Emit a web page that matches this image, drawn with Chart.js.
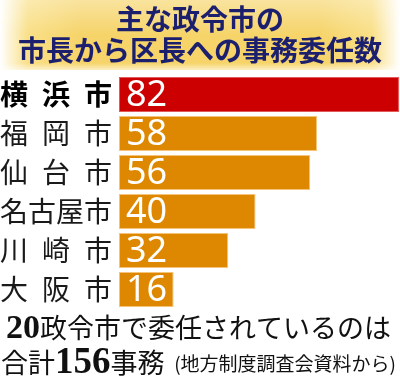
<!DOCTYPE html>
<html><head><meta charset="utf-8">
<script src="https://cdn.jsdelivr.net/npm/chart.js@4/dist/chart.umd.min.js"></script>
<style>html,body{margin:0;padding:0;background:#fff;}#wrap{width:400px;height:381px;position:relative;}</style>
</head><body><div id="wrap"><canvas id="c" width="400" height="381"></canvas></div>
<script>
const titleLines = ['主な政令市の', '市長から区長への事務委任数'];
const cities = ['横\u2002浜\u2002市', '福\u2002岡\u2002市', '仙\u2002台\u2002市', '名古屋市', '川\u2002崎\u2002市', '大\u2002阪\u2002市'];
const counts = [82, 58, 56, 40, 32, 16];
const barColors = ['#cc0000', '#dd8800', '#dd8800', '#dd8800', '#dd8800', '#dd8800'];
const borderColors = ['#e35a5a', '#f6c37a', '#f6c37a', '#f6c37a', '#f6c37a', '#f6c37a'];
const footLine1 = [['20', 'bold 34px "Liberation Serif"'], ['政令市で委任されているのは', '27px "Noto Sans CJK JP"']];
const footLine2 = [['合計', '27px "Noto Sans CJK JP"'], ['156', 'bold 37px "Liberation Serif"'], ['事務', '27px "Noto Sans CJK JP"']];
const footSource = '(地方制度調査会資料から)';
const CJK = '"Noto Sans CJK JP", "Noto Sans", sans-serif';

const decor = {
  id: 'decor',
  beforeDraw(chart) {
    const ctx = chart.ctx;
    ctx.save();
    const g = ctx.createLinearGradient(0, 0, 400, 0);
    g.addColorStop(0, '#ffffff');
    g.addColorStop(0.07, '#f9df86');
    g.addColorStop(0.2, '#f6d46a');
    g.addColorStop(0.8, '#f6d46a');
    g.addColorStop(0.93, '#f9df86');
    g.addColorStop(1, '#ffffff');
    ctx.fillStyle = g;
    ctx.fillRect(0, 0, 400, 70);
    const v = ctx.createLinearGradient(0, 0, 0, 70);
    v.addColorStop(0, 'rgba(255,255,255,0.35)');
    v.addColorStop(0.5, 'rgba(255,255,255,0)');
    v.addColorStop(0.9, 'rgba(255,255,255,0)');
    v.addColorStop(1, 'rgba(255,255,255,0.6)');
    ctx.fillStyle = v;
    ctx.fillRect(0, 0, 400, 70);
    ctx.fillStyle = '#1b1f6e';
    ctx.font = 'bold 28px ' + CJK;
    ctx.textAlign = 'center';
    ctx.textBaseline = 'middle';
    ctx.fillText(titleLines[0], 200, 19);
    ctx.fillText(titleLines[1], 200, 50);
    ctx.restore();
  },
  afterDraw(chart) {
    const ctx = chart.ctx;
    ctx.save();
    const meta = chart.getDatasetMeta(0);
    ctx.fillStyle = '#ffffff';
    ctx.font = '36px "Noto Sans", sans-serif';
    ctx.textAlign = 'left';
    ctx.textBaseline = 'middle';
    meta.data.forEach((bar, i) => {
      ctx.fillText(String(counts[i]), bar.base + 7, bar.y + 1);
    });
    ctx.fillStyle = '#111111';
    ctx.textBaseline = 'alphabetic';
    const drawLine = (parts, x, y) => {
      parts.forEach(([t, f]) => {
        ctx.font = f + ', ' + CJK;
        ctx.fillText(t, x, y);
        x += ctx.measureText(t).width;
      });
    };
    drawLine(footLine1, 6, 338);
    drawLine(footLine2, 1, 373);
    ctx.font = '19px ' + CJK;
    ctx.textAlign = 'right';
    ctx.fillText(footSource, 396, 371);
    ctx.restore();
  }
};

new Chart(document.getElementById('c'), {
  type: 'bar',
  data: {
    labels: cities,
    datasets: [{
      data: counts,
      backgroundColor: barColors,
      borderColor: borderColors,
      borderWidth: 1,
      borderSkipped: false,
      barPercentage: 0.9,
      categoryPercentage: 1
    }]
  },
  options: {
    indexAxis: 'y',
    responsive: false,
    animation: false,
    devicePixelRatio: 1,
    layout: { padding: { top: 75, bottom: 72, left: 0, right: 0 } },
    plugins: { legend: { display: false }, tooltip: { enabled: false }, title: { display: false } },
    scales: {
      x: { display: false, min: 0, max: 82.3 },
      y: {
        afterFit(s) { s.width = 119; },
        grid: { display: false, drawTicks: false },
        border: { display: false },
        ticks: {
          crossAlign: 'far',
          padding: 0,
          color: (c) => c.index === 0 ? '#000000' : '#1a1a1a',
          font: (c) => ({ family: CJK, size: 28, weight: c.index === 0 ? 'bold' : 'normal' })
        }
      }
    }
  },
  plugins: [decor]
});
</script></body></html>
